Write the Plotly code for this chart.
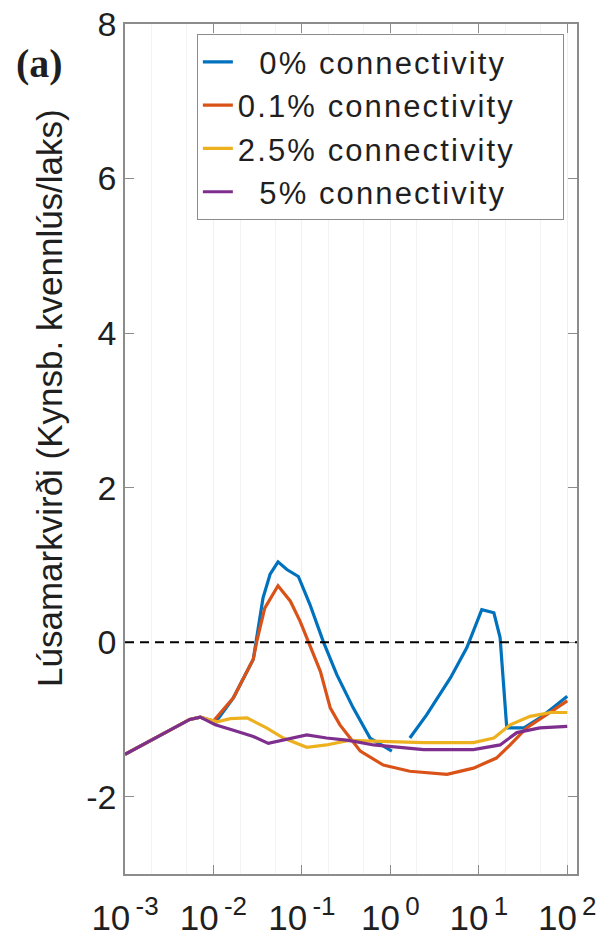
import plotly.graph_objects as go

# Sea-lice threshold curves for four connectivity levels (x on log scale)
x_0 = [0.001, 0.0023, 0.0054, 0.0071, 0.0105, 0.0168, 0.0282, 0.0363, 0.0437,
       0.0537, 0.0676, 0.0912, 0.123, 0.174, 0.248, 0.38, 0.589, 1.04, None,
       1.66, 2.57, 4.79, 7.33, 10.8, 14.8, 17.4, 20.7, 32.4, 49.0, 75.9, 100.0]
y_0 = [-1.45, -1.23, -1.00, -0.97, -1.04, -0.72, -0.22, 0.57, 0.88,
       1.04, 0.94, 0.85, 0.49, 0.01, -0.42, -0.85, -1.24, -1.41, None,
       -1.24, -0.94, -0.46, -0.07, 0.42, 0.38, 0.06, -1.11, -1.11, -0.98, -0.81, -0.70]

x_01 = [0.001, 0.0023, 0.0054, 0.0071, 0.01, 0.0168, 0.0282, 0.0309, 0.038,
        0.0537, 0.0741, 0.0955, 0.123, 0.162, 0.209, 0.269, 0.351, 0.457, 0.832,
        1.66, 4.37, 8.7, 15.8, 22.6, 34.7, 58.9, 100.0]
y_01 = [-1.45, -1.23, -1.00, -0.97, -1.02, -0.72, -0.22, 0.01, 0.44,
        0.73, 0.53, 0.27, -0.03, -0.38, -0.85, -1.07, -1.24, -1.41, -1.59,
        -1.67, -1.71, -1.63, -1.50, -1.33, -1.11, -0.94, -0.76]

x_25 = [0.001, 0.0023, 0.0054, 0.0071, 0.011, 0.0155, 0.024, 0.0398, 0.0617,
        0.1135, 0.19, 0.339, 0.646, 2.37, 8.7, 14.8, 22.6, 38.0, 64.6, 100.0]
y_25 = [-1.45, -1.23, -1.00, -0.97, -1.03, -0.99, -0.98, -1.11, -1.24,
        -1.36, -1.33, -1.27, -1.28, -1.30, -1.30, -1.24, -1.07, -0.96, -0.91, -0.91]

x_5 = [0.001, 0.0023, 0.0054, 0.0071, 0.0105, 0.0168, 0.0282, 0.0417, 0.0676,
       0.1135, 0.19, 0.339, 0.646, 2.37, 8.7, 17.4, 26.9, 49.0, 100.0]
y_5 = [-1.45, -1.23, -1.00, -0.97, -1.07, -1.14, -1.22, -1.31, -1.26,
       -1.20, -1.24, -1.27, -1.33, -1.39, -1.39, -1.33, -1.17, -1.11, -1.09]

series_labels = ["0% connectivity", "0.1% connectivity",
                 "2.5% connectivity", "5% connectivity"]
label_indent = [2, 0, 0, 2]
series_colors = ["#0072BD", "#D95319", "#EDB120", "#7E2F8E"]

x_tick_vals = [1e-3, 1e-2, 1e-1, 1e0, 1e1, 1e2]
x_tick_exps = ["-3", "-2", "-1", "0", "1", "2"]
y_tick_vals = [-2, 0, 2, 4, 6, 8]
y_tick_text = ["-2", "0", "2", "4", "6", "8"]

y_title = "Lúsamarkvirði (Kynsb. kvennlús/laks)"
panel_label = "(a)"

x_tick_text = ['10<sup><span style="font-size:26px">\u2009' + e + '</span></sup>'
               for e in x_tick_exps]

# legend entries: widened letter spacing, short labels indented, trailing pad
legend_names = ['<span style="letter-spacing:2.1px">' + "\u00a0" * ind + lab
                + "\u00a0" * 4 + '</span>'
                for lab, ind in zip(series_labels, label_indent)]

fig = go.Figure()
for xs, ys, name, color in zip([x_0, x_01, x_25, x_5], [y_0, y_01, y_25, y_5],
                               legend_names, series_colors):
    fig.add_trace(go.Scatter(x=xs, y=ys, mode="lines", name=name,
                             line=dict(color=color, width=3.2),
                             connectgaps=False))

# zero reference line
fig.add_shape(type="line", xref="paper", yref="y", x0=0, x1=1, y0=0, y1=0,
              line=dict(color="black", width=2, dash="9px,6px"))

axis_col = "#8c8c8c"
txt_col = "#1f1f1f"
font_fam = "Liberation Sans, Arial, sans-serif"

fig.update_layout(
    width=606, height=941,
    margin=dict(l=125, r=29, t=24, b=67),
    paper_bgcolor="white", plot_bgcolor="white",
    font=dict(family=font_fam, color=txt_col),
    showlegend=True,
    legend=dict(x=0.159, y=0.988, xanchor="left", yanchor="top",
                bgcolor="white", bordercolor=axis_col, borderwidth=1,
                font=dict(size=31, family=font_fam, color=txt_col),
                itemwidth=30, tracegroupgap=0),
    xaxis=dict(type="log", range=[-3, 2.11], automargin=False,
               tickvals=x_tick_vals, ticktext=x_tick_text,
               ticks="inside", ticklen=9, tickcolor=axis_col,
               ticklabelstandoff=12,
               showline=True, linecolor=axis_col, linewidth=1.5, mirror="ticks",
               showgrid=True, gridcolor="#f0f0f0", gridwidth=1,
               minor=dict(showgrid=True, gridcolor="#f3f3f3", ticks=""),
               tickfont=dict(size=35, family=font_fam, color=txt_col),
               zeroline=False),
    yaxis=dict(range=[-3, 8], tickvals=y_tick_vals, ticktext=y_tick_text,
               automargin=False,
               ticks="inside", ticklen=9, tickcolor=axis_col,
               showline=True, linecolor=axis_col, linewidth=1.5, mirror="ticks",
               showgrid=False, zeroline=False,
               tickfont=dict(size=34, family=font_fam, color=txt_col)),
)

fig.add_annotation(text=y_title, xref="paper", yref="paper",
                   x=-0.166, y=0.56, textangle=-90, showarrow=False,
                   font=dict(size=35, family=font_fam, color=txt_col),
                   xanchor="center", yanchor="middle")
fig.add_annotation(text="<b>" + panel_label + "</b>", xref="paper", yref="paper",
                   x=-0.19, y=0.953, showarrow=False,
                   font=dict(size=40, family="Liberation Serif, Times New Roman, serif",
                             color=txt_col),
                   xanchor="center", yanchor="middle")

fig.write_html("out.html")
